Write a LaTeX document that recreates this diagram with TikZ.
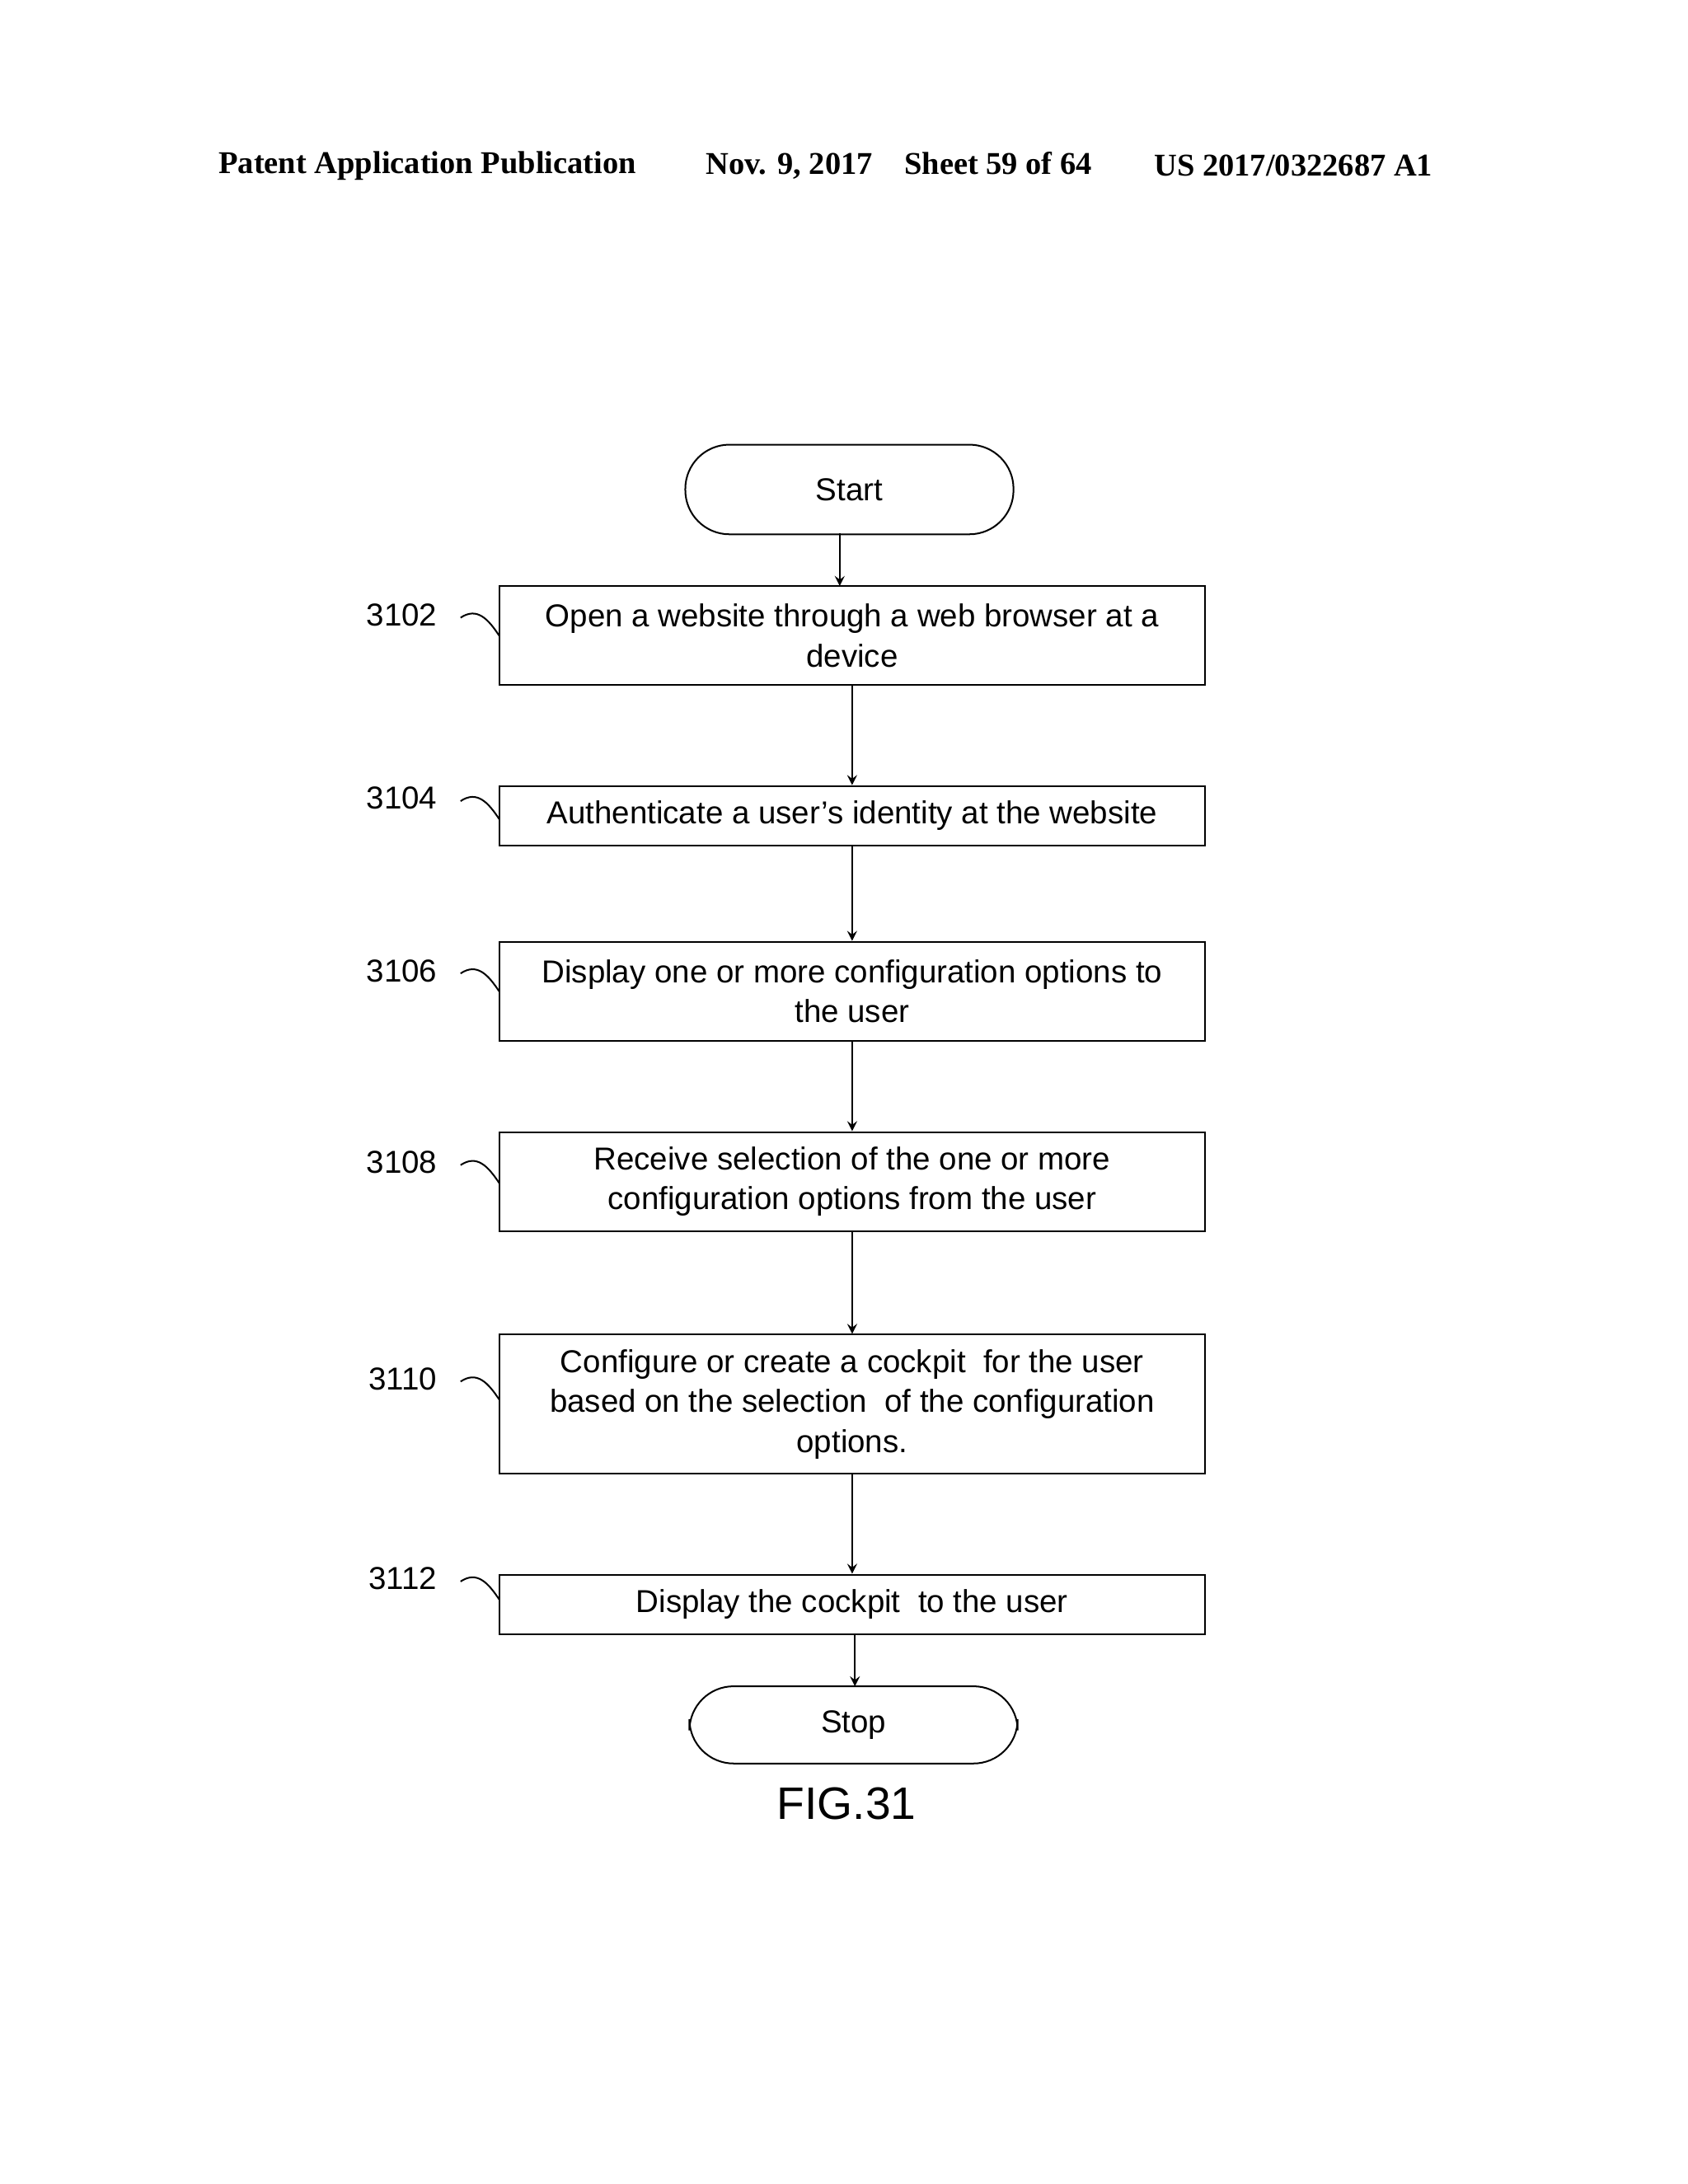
\documentclass[tikz,border=0pt]{standalone}
\usepackage{fontspec}
\setmainfont{Liberation Sans}
\newfontfamily\hdr{Liberation Serif}
\begin{document}
\begin{tikzpicture}[x=0.5pt,y=-0.5pt,
  box/.style={draw,line width=0.6pt,minimum width=256pt,align=center,font=\fontsize{11.5}{14.5}\selectfont,inner sep=0pt},
  term/.style={draw,line width=0.6pt,rounded corners=16pt,minimum width=119pt,align=center,font=\fontsize{11.5}{14}\selectfont},
  lab/.style={font=\fontsize{11.5}{14}\selectfont},
  head/.style={font=\hdr\bfseries\fontsize{11.5}{14}\selectfont},
  arr/.style={->,line width=0.6pt,>={stealth}},
  sq/.style={line width=0.6pt}]
\useasboundingbox (0,0) rectangle (1224,1584);
\node[head] (h1) at (310,120) {Patent Application Publication};
\node[head] (h2) at (652,120) {Nov. 9, 2017\hspace{1em}Sheet 59 of 64};
\node[head] (h3) at (938,120) {US 2017/0322687 A1};

\node[term,minimum height=32.5pt] (start) at (616,355) {Start};
\node[box,minimum height=36pt] (b1) at (618,461) {Open a website through a web browser at a\\device};
\node[box,minimum height=21.5pt] (b2) at (618,591.5) {Authenticate a user’s identity at the website};
\node[box,minimum height=36pt] (b3) at (618,719) {Display one or more configuration options to\\the user};
\node[box,minimum height=36pt] (b4) at (618,857) {Receive selection of the one or more\\configuration options from the user};
\node[box,minimum height=50.5pt] (b5) at (618,1018.5) {Configure or create a cockpit\ \ for the user\\based on the selection\ \ of the configuration\\options.};
\node[box,minimum height=21.5pt] (b6) at (618,1163.5) {Display the cockpit\ \ to the user};
\node[term,minimum height=28pt] (stop) at (619,1251) {Stop};
\node[font=\fontsize{16.5}{20}\selectfont] (fig) at (614,1308) {FIG.31};

\draw[arr] (609,387) -- (609,425);
\draw[arr] (b1) -- (b2);
\draw[arr] (b2) -- (b3);
\draw[arr] (b3) -- (b4);
\draw[arr] (b4) -- (b5);
\draw[arr] (b5) -- (b6);
\draw[arr] (620,1185) -- (620,1223);

\foreach \n/\t/\y in {1/3102/446,2/3104/579,3/3106/704,4/3108/843,5/3110/1000,6/3112/1145}{
  \node[lab,anchor=east] (l\n) at (324,\y) {\t};
  \draw[sq] (l\n.east)++(10,2) .. controls +(12,-8) and +(-8,-12) .. (362,\y+15);
}
\end{tikzpicture}
\end{document}
